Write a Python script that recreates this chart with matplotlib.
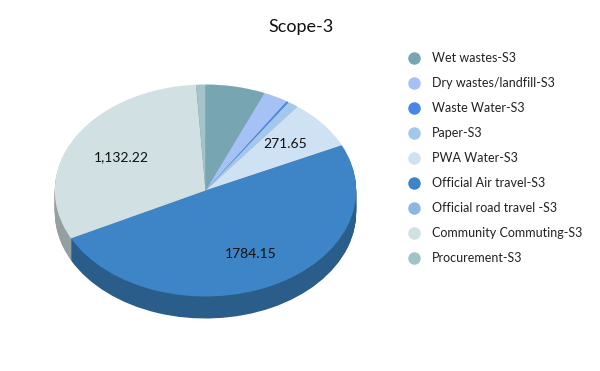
import matplotlib
matplotlib.use('Agg')
import matplotlib.pyplot as plt
from matplotlib.lines import Line2D

names = ['Wet wastes-S3', 'Dry wastes/landfill-S3', 'Waste Water-S3', 'Paper-S3', 'PWA Water-S3',
         'Official Air travel-S3', 'Official road travel -S3', 'Community Commuting-S3', 'Procurement-S3']
values = [230, 97, 8, 41, 271.65, 1784.15, 0, 1132.22, 36]
colors = ['#77a6b2', '#a5c1f5', '#4a86e8', '#a3c8ec', '#cfe2f3', '#3d85c6', '#8ab8e3', '#d0e0e3', '#a2c4c9']
side_colors = ['#53747c', '#7387ab', '#345da2', '#728ca5', '#909eaa', '#2a5d8a', '#60809e', '#949fa1', '#71898c']

W, H = 600, 371
cx, cy, rx, ry, depth = 205.5, 190.5, 150.7, 106, 22

plt.rcParams['font.family'] = ['Lato', 'DejaVu Sans']
fig = plt.figure(figsize=(W / 100, H / 100), dpi=100)
ax = fig.add_axes([0, 0, 1, 1])

# side wall: the same pie stacked downward in darker colours
for d in range(depth, 0, -1):
    ax.pie(values, colors=side_colors, startangle=90, counterclock=False,
           center=(0, -d / ry), wedgeprops={'linewidth': 0})
ax.pie(values, colors=colors, startangle=90, counterclock=False, wedgeprops={'linewidth': 0})

ax.set_aspect('auto')
ax.set_xlim(-cx / rx, (W - cx) / rx)
ax.set_ylim((cy - H) / ry, cy / ry)
ax.axis('off')


def px_text(x, y, s, size=10):
    fig.text(x / W, 1 - y / H, s, ha='center', va='center', fontsize=size, color='#111111')


px_text(301, 27, 'Scope-3', 13)
px_text(121, 157, '1,132.22')
px_text(285.5, 144, '271.65')
px_text(251, 253.5, '1784.15')

handles = [Line2D([], [], linestyle='none', marker='o', markersize=9, markerfacecolor=c,
                  markeredgewidth=0) for c in colors]
fig.legend(handles, names, loc='upper left', bbox_to_anchor=(401 / W, 1 - 52 / H), frameon=False,
           fontsize=9, labelspacing=1.04, handletextpad=0.48, borderpad=0, borderaxespad=0,
           handlelength=2, labelcolor='#222222')

fig.savefig('out.png', dpi=100)
